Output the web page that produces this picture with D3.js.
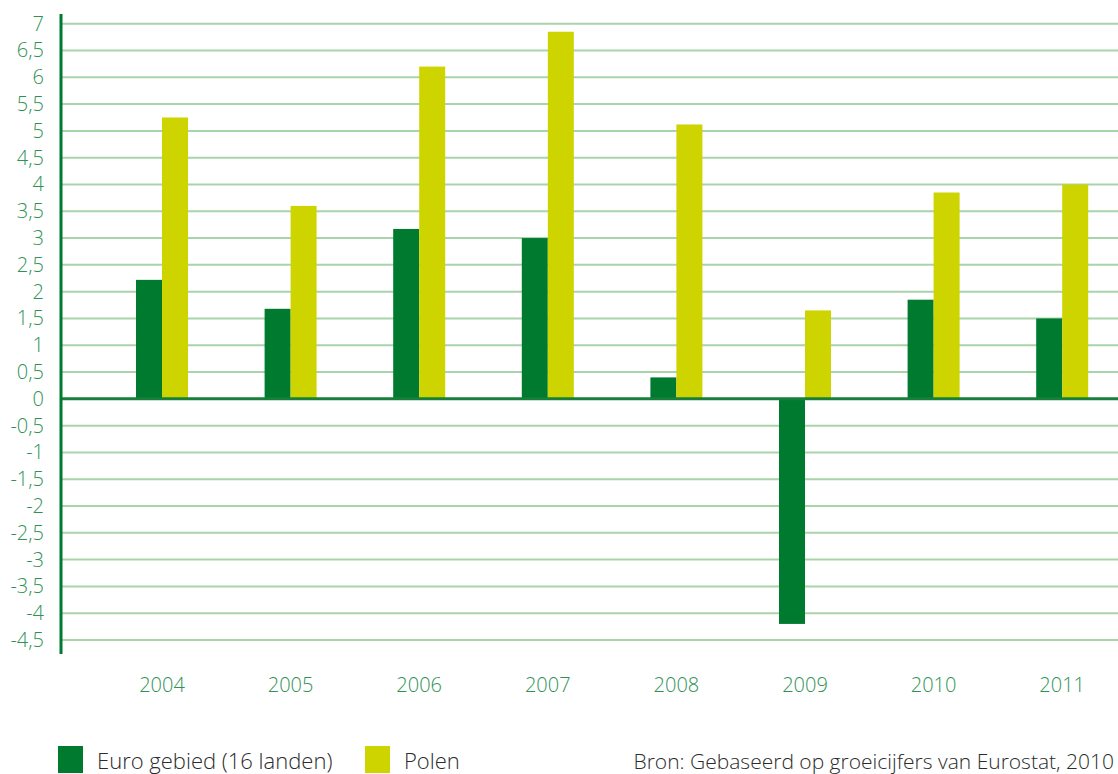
<!DOCTYPE html>
<html lang="nl">
<head>
  <meta charset="UTF-8">
  <title>Groei euro gebied en Polen</title>
  <script src="https://d3js.org/d3.v7.min.js"></script>
  <style>
    body { margin: 0; background: #fff; font-family: "Open Sans", "Noto Sans", sans-serif; }
    svg { display: block; }
  </style>
</head>
<body>
  <div id="chart"></div>
  <script>
    const years = ["2004", "2005", "2006", "2007", "2008", "2009", "2010", "2011"];
    const euro = [2.22, 1.68, 3.17, 3.0, 0.4, -4.2, 1.85, 1.5];
    const polen = [5.25, 3.6, 6.2, 6.85, 5.12, 1.65, 3.85, 4.0];
    const yTicks = [7, 6.5, 6, 5.5, 5, 4.5, 4, 3.5, 3, 2.5, 2, 1.5, 1, 0.5, 0,
                    -0.5, -1, -1.5, -2, -2.5, -3, -3.5, -4, -4.5];
    const seriesNames = ["Euro gebied (16 landen)", "Polen"];
    const colors = ["#007a2f", "#cdd400"];
    const source = "Bron: Gebaseerd op groeicijfers van Eurostat, 2010";

    const W = 1118, H = 774;
    const axisX = 61;

    const svg = d3.select("#chart").append("svg")
      .attr("width", W).attr("height", H);

    const y = d3.scaleLinear().domain([-4.5, 7]).range([640, 23.7]);
    const x = d3.scaleBand().domain(years).range([97.7, 1126.5]);
    const sub = d3.scaleBand().domain([0, 1]).range([-26, 26]);

    const fmt = d => String(d).replace(".", ",");

    // gridlines
    svg.append("g").selectAll("line")
      .data(yTicks.filter(d => d !== 0))
      .join("line")
      .attr("x1", axisX).attr("x2", W)
      .attr("y1", d => y(d)).attr("y2", d => y(d))
      .attr("stroke", "#a9d3a9").attr("stroke-width", 2);

    // tick labels
    svg.append("g").selectAll("text")
      .data(yTicks)
      .join("text")
      .attr("x", 44).attr("y", d => y(d) + 7)
      .attr("text-anchor", "end")
      .style("font-size", "20px")
      .style("font-weight", 300)
      .attr("fill", "#2f9255")
      .text(fmt);

    // bars
    const groups = svg.append("g").selectAll("g")
      .data(years)
      .join("g")
      .attr("transform", d => `translate(${x(d) + x.bandwidth() / 2},0)`);

    groups.selectAll("rect")
      .data((d, i) => [euro[i], polen[i]])
      .join("rect")
      .attr("x", (d, j) => sub(j))
      .attr("width", sub.bandwidth())
      .attr("y", d => y(Math.max(0, d)))
      .attr("height", d => Math.abs(y(d) - y(0)))
      .attr("fill", (d, j) => colors[j]);

    // zero line
    svg.append("line")
      .attr("x1", axisX).attr("x2", W)
      .attr("y1", y(0)).attr("y2", y(0))
      .attr("stroke", "#16803a").attr("stroke-width", 3);

    // left axis line
    svg.append("line")
      .attr("x1", axisX).attr("x2", axisX)
      .attr("y1", 14).attr("y2", 654)
      .attr("stroke", "#007a2f").attr("stroke-width", 3);

    // year labels
    svg.append("g").selectAll("text")
      .data(years)
      .join("text")
      .attr("x", d => x(d) + x.bandwidth() / 2)
      .attr("y", 692)
      .attr("text-anchor", "middle")
      .style("font-size", "20px")
      .style("font-weight", 300)
      .attr("fill", "#2f9255")
      .text(d => d);

    // legend
    const legX = [58, 365];
    seriesNames.forEach((name, i) => {
      svg.append("rect")
        .attr("x", legX[i]).attr("y", 746)
        .attr("width", 25).attr("height", 27)
        .attr("fill", colors[i]);
      svg.append("text")
        .attr("x", legX[i] + 39).attr("y", 769)
        .style("font-size", "22px")
        .style("font-weight", 300)
        .attr("fill", "#2b2b2b")
        .text(name);
    });

    svg.append("text")
      .attr("x", 1114).attr("y", 769)
      .attr("text-anchor", "end")
      .style("font-size", "21px")
      .style("font-weight", 300)
      .attr("fill", "#2b2b2b")
      .text(source);
  </script>
</body>
</html>
